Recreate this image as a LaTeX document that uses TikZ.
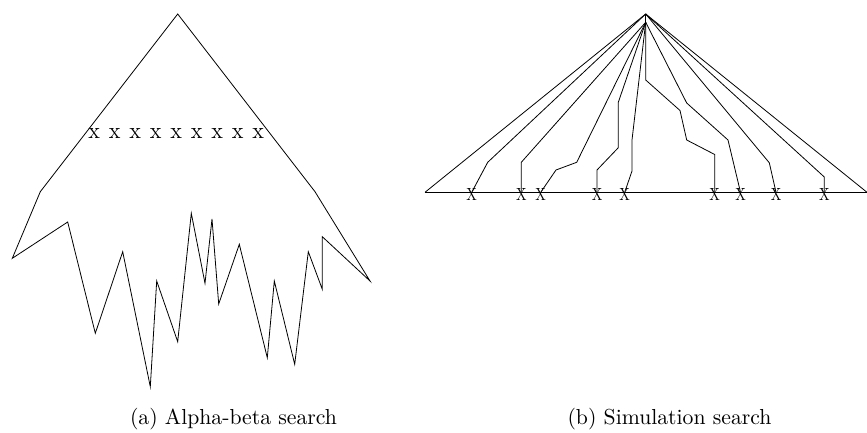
\documentclass[tikz,border=0pt]{standalone}
\begin{document}
\begin{tikzpicture}[x=1pt,y=-1pt,
  ln/.style={line width=0.8pt, line join=miter},
  xmark/.style={inner sep=0pt, anchor=base, font=\fontsize{10}{12}\selectfont},
  bigx/.style={inner sep=0pt, anchor=base, font=\fontsize{10}{12}\selectfont},
  captext/.style={inner sep=0pt, anchor=base, font=\fontsize{10}{12}\selectfont}]
\useasboundingbox (0,0) rectangle (867,433);
% ---------- (a) Alpha-beta search ----------
\draw[ln] (177.7,14) -- (40.3,191.7) -- (12.3,258.3) -- (67.7,222) -- (95.3,333.3)
  -- (122.7,251.7) -- (150.3,386.7) -- (156.7,281) -- (177.7,341.7) -- (191.3,213.3)
  -- (205,283.3) -- (212,219) -- (218.7,304) -- (239.3,244.3) -- (267.3,357.7)
  -- (274.3,281) -- (294.7,364.3) -- (308.3,251.7) -- (322.3,289.3) -- (322.3,236.7)
  -- (370,281) -- (315,191.7) -- cycle;
\foreach \i in {0,...,8} {
  \node[xmark] (ax\i) at ({94.3+20.5*\i},138.3) {\scalebox{2.2}[2.32]{x}};
}
\node[captext] (capa) at (233.5,424) {\scalebox{2.17}{(a) Alpha-beta search}};
% ---------- (b) Simulation search ----------
\coordinate (apex) at (645.7,14);
\coordinate (apexb) at (645.7,22.3);
\coordinate (bl) at (425,192.3);
\coordinate (br) at (867,192.3);
\coordinate (l1) at (471.7,192.3);
\coordinate (l2) at (521.3,192.3);
\coordinate (l3) at (540.7,192.3);
\coordinate (l4) at (597,192.3);
\coordinate (l5) at (624.7,192.3);
\coordinate (l6) at (714.7,192.3);
\coordinate (l7) at (740.5,192.3);
\coordinate (l8) at (776,192.3);
\coordinate (l9) at (824.3,192.3);
\draw[ln] (bl) -- (br);
\draw[ln] (bl) -- (apex) -- (br);
\draw[ln] (apex) -- (apexb);
\draw[ln] (apex) -- (487.7,162.3) -- (l1);
\draw[ln] (apexb) -- (521.3,162.3) -- (l2);
\draw[ln] (apexb) -- (576.7,162.3) -- (556,170) -- (l3);
\draw[ln] (apexb) -- (618.3,102.3) -- (618.3,147.7) -- (597,170) -- (l4);
\draw[ln] (apexb) -- (632,140) -- (632,171) -- (l5);
\draw[ln] (apexb) -- (645.7,80) -- (680,110.5) -- (686.7,140) -- (714.7,154.5) -- (l6);
\draw[ln] (apexb) -- (686.7,103) -- (728,140) -- (l7);
\draw[ln] (apex) -- (769.3,162.8) -- (l8);
\draw[ln] (apex) -- (824.3,177) -- (l9);
\foreach \i in {1,...,9} {
  \node[bigx] (bx\i) at ([yshift=-7.7pt]l\i) {\scalebox{1.4}[1.76]{X}};
}
\node[captext] (capb) at (669.5,424) {\scalebox{2.17}{(b) Simulation search}};
\end{tikzpicture}
\end{document}
